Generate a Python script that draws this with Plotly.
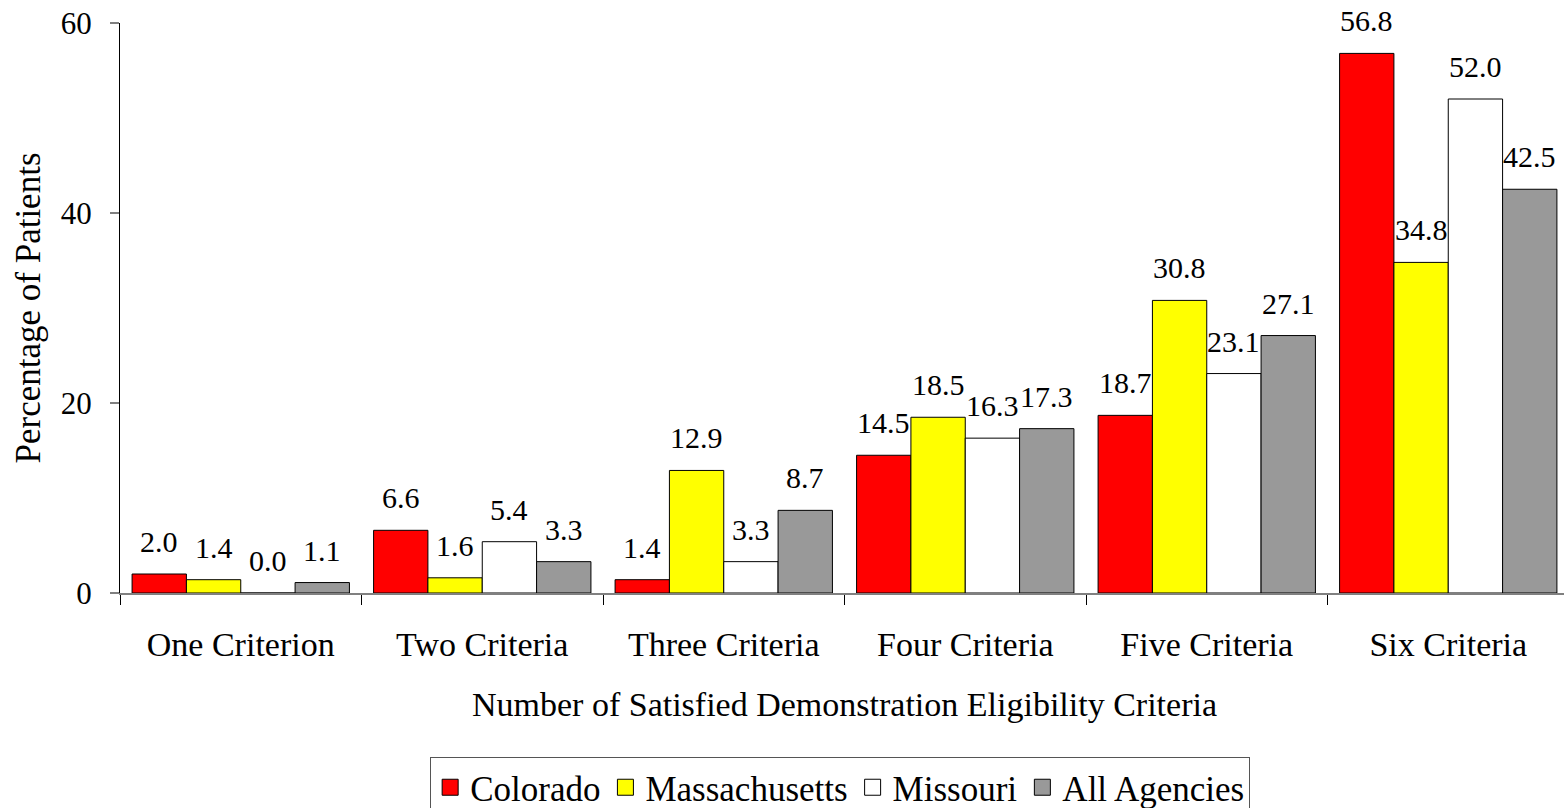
import plotly.graph_objects as go

categories = ["One Criterion", "Two Criteria", "Three Criteria", "Four Criteria", "Five Criteria", "Six Criteria"]
series_names = ["Colorado", "Massachusetts", "Missouri", "All Agencies"]
colorado = [2.0, 6.6, 1.4, 14.5, 18.7, 56.8]
massachusetts = [1.4, 1.6, 12.9, 18.5, 30.8, 34.8]
missouri = [0.0, 5.4, 3.3, 16.3, 23.1, 52.0]
all_agencies = [1.1, 3.3, 8.7, 17.3, 27.1, 42.5]
colors = ["#FF0000", "#FFFF00", "#FFFFFF", "#999999"]
y_ticks = [0, 20, 40, 60]

W, H = 1569, 808
ML, MR, MT, MB = 120, 0, 23, 215
BARGAP = 0.1
FONT = "Liberation Serif"

all_series = [colorado, massachusetts, missouri, all_agencies]

fig = go.Figure()
for name, vals, col in zip(series_names, all_series, colors):
    fig.add_trace(go.Bar(
        x=categories, y=vals, name=name, legendgroup=name, showlegend=False,
        marker=dict(color=col, line=dict(color="#000000", width=1)),
    ))
for name, col in zip(series_names, colors):
    fig.add_trace(go.Scatter(
        x=[None], y=[None], mode="markers", name=name, legendgroup=name,
        marker=dict(symbol="square", size=20, color=col, line=dict(color="#000000", width=1)),
    ))

plot_w = W - ML - MR
cat_w = plot_w / len(categories)
bar_w = cat_w * (1 - BARGAP) / len(all_series)
annotations = []
for i, vals in enumerate(all_series):
    shift = (i - (len(all_series) - 1) / 2) * bar_w
    for c, v in zip(categories, vals):
        annotations.append(dict(
            x=c, y=v, xref="x", yref="y", text=f"{v:.1f}", showarrow=False,
            xshift=shift, yshift=14, yanchor="bottom", xanchor="center",
            font=dict(family=FONT, size=30, color="#000000"),
        ))

fig.update_layout(
    width=W, height=H,
    margin=dict(l=ML, r=MR, t=MT, b=MB, autoexpand=False),
    paper_bgcolor="white", plot_bgcolor="white",
    barmode="group", bargap=BARGAP, bargroupgap=0,
    font=dict(family=FONT, size=30, color="#000000"),
    showlegend=True,
    legend=dict(
        orientation="h", x=0.497, xanchor="center", y=-0.2877, yanchor="top",
        bordercolor="#555555", borderwidth=1,
        font=dict(family=FONT, size=35, color="#000000"),
        itemwidth=30, tracegroupgap=0, itemsizing="trace",
    ),
    annotations=annotations,
    xaxis=dict(
        automargin=False,
        showline=True, linecolor="#808080", linewidth=1.5,
        ticks="outside", tickson="boundaries", ticklen=10, tickcolor="#000000", tickwidth=1,
        tickfont=dict(family=FONT, size=34),
        ticklabelstandoff=20,
        title=dict(text="Number of Satisfied Demonstration Eligibility Criteria",
                   font=dict(family=FONT, size=34), standoff=31),
        showgrid=False, zeroline=False,
    ),
    yaxis=dict(
        automargin=False,
        range=[0, 60], tickvals=y_ticks,
        showline=True, linecolor="#000000", linewidth=1,
        ticks="outside", ticklen=9, tickcolor="#808080", tickwidth=1.5,
        tickfont=dict(family=FONT, size=31),
        ticklabelstandoff=12,
        title=dict(text="Percentage of Patients", font=dict(family=FONT, size=35), standoff=9),
        showgrid=False, zeroline=False,
    ),
)

fig.write_html(
    "out.html",
    config={"displayModeBar": False},
    post_script="document.body.style.margin='0';document.body.style.overflow='hidden';",
)
